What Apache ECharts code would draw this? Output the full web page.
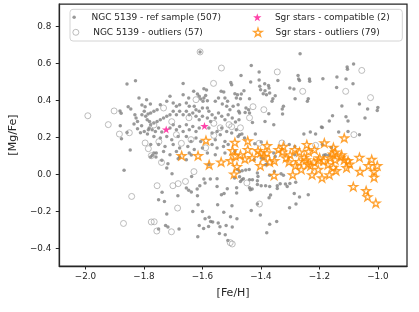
<!DOCTYPE html>
<html><head><meta charset="utf-8">
<script src="https://cdn.jsdelivr.net/npm/echarts@6/dist/echarts.min.js"></script>
<style>html,body{margin:0;padding:0;background:#fff}#c{width:419px;height:312px}</style>
</head><body><div id="c"></div>
<script>
// ---- tick labels ----
const xTicks = [-2.0, -1.8, -1.6, -1.4, -1.2, -1.0];
const yTicks = [-0.4, -0.2, 0.0, 0.2, 0.4, 0.6, 0.8];

// ---- series names ----
const nameRef = 'NGC 5139 - ref sample (507)';
const nameOut = 'NGC 5139 - outliers (57)';
const nameCompat = 'Sgr stars - compatible (2)';
const nameSgrOut = 'Sgr stars - outliers (79)';

// ---- NGC 5139 reference sample [Fe/H], [Mg/Fe] ----
const refSample = [
[-1.858,0.489],[-1.829,0.506],[-1.882,0.343],[-1.878,0.330],[-1.881,0.263],[-1.877,0.193],[-1.858,0.227],[-1.847,0.132],[-1.854,0.366],[-1.845,0.354],[-1.817,0.413],[-1.807,0.375],[-1.791,0.404],[-1.796,0.366],[-1.831,0.323],[-1.827,0.305],[-1.822,0.286],[-1.834,0.272],[-1.807,0.323],[-1.799,0.341],[-1.794,0.314],[-1.786,0.326],[-1.789,0.296],[-1.781,0.286],[-1.808,0.263],[-1.799,0.232],[-1.788,0.218],[-1.812,0.225],[-1.822,0.247],[-1.785,0.242],[-1.777,0.094],[-1.778,0.381],[-1.868,0.022],
[-1.750,-0.295],[-1.726,-0.276],[-1.718,-0.284],[-1.680,-0.295],[-1.722,-0.214],[-1.750,-0.137],[-1.730,-0.146],[-1.738,-0.097],[-1.684,-0.115],[-1.655,-0.074],[-1.647,-0.086],[-1.638,-0.095],[-1.618,-0.079],[-1.609,-0.061],[-1.617,-0.115],[-1.633,-0.200],[-1.600,-0.200],[-1.615,-0.164],[-1.591,-0.239],[-1.577,-0.232],[-1.572,-0.254],[-1.611,-0.276],[-1.596,-0.292],[-1.616,-0.337],[-1.579,-0.281],[-1.637,-0.011],[-1.704,0.004],[-1.722,0.035],[-1.718,0.058],[-1.683,0.085],[-1.678,0.094],[-1.655,0.079],[-1.638,0.105],[-1.595,-0.025],[-1.591,-0.046],[-1.573,-0.025],[-1.771,0.103],[-1.758,0.116],[-1.759,0.094],[-1.578,0.054],[-1.550,-0.023],[-1.550,-0.065],[-1.548,-0.164],[-1.546,-0.263],[-1.540,-0.283],[-1.565,-0.257],[-1.535,-0.110],[-1.526,-0.103],[-1.515,-0.077],[-1.527,-0.205],[-1.542,-0.319],[-1.519,-0.276],[-1.522,-0.326],[-1.513,-0.357],[-1.504,-0.229],[-1.498,-0.284],[-1.499,-0.169],[-1.483,-0.101],[-1.490,-0.019],[-1.473,-0.012],[-1.739,0.076],[-1.711,0.106],
[-1.608,0.662],[-1.666,0.492],[-1.503,0.497],[-1.500,0.485],[-1.595,0.463],[-1.586,0.456],[-1.630,0.449],[-1.536,0.449],[-1.527,0.445],[-1.489,0.436],[-1.480,0.431],[-1.617,0.435],[-1.611,0.422],[-1.606,0.408],[-1.595,0.413],[-1.589,0.427],[-1.598,0.395],[-1.583,0.398],[-1.647,0.413],[-1.666,0.431],[-1.678,0.377],[-1.689,0.368],[-1.700,0.386],[-1.711,0.422],[-1.722,0.395],[-1.744,0.377],[-1.755,0.350],[-1.766,0.341],[-1.777,0.332],[-1.655,0.386],[-1.645,0.368],[-1.628,0.368],[-1.622,0.350],[-1.611,0.341],[-1.600,0.359],[-1.583,0.359],[-1.578,0.341],[-1.556,0.395],[-1.545,0.413],[-1.523,0.413],[-1.514,0.395],[-1.532,0.381],[-1.517,0.368],[-1.506,0.350],[-1.495,0.368],[-1.478,0.377],[-1.473,0.332],[-1.567,0.323],[-1.556,0.305],[-1.545,0.332],[-1.534,0.314],[-1.523,0.296],[-1.512,0.323],[-1.498,0.305],[-1.487,0.283],[-1.475,0.296],[-1.572,0.286],[-1.583,0.305],[-1.600,0.314],[-1.611,0.296],[-1.622,0.314],[-1.633,0.332],[-1.645,0.323],[-1.655,0.341],[-1.666,0.323],[-1.678,0.341],[-1.689,0.323],[-1.700,0.341],[-1.711,0.323],[-1.722,0.314],[-1.733,0.305],[-1.744,0.296],[-1.755,0.286],[-1.766,0.278],[-1.777,0.269],[-1.782,0.251],[-1.772,0.242],[-1.761,0.232],[-1.750,0.251],[-1.739,0.229],[-1.711,0.251],[-1.700,0.269],[-1.689,0.242],[-1.678,0.259],[-1.666,0.232],[-1.655,0.269],[-1.645,0.242],[-1.633,0.259],[-1.622,0.232],[-1.611,0.251],[-1.578,0.251],[-1.567,0.224],[-1.550,0.232],[-1.539,0.215],[-1.534,0.251],[-1.517,0.232],[-1.500,0.224],[-1.484,0.242],[-1.473,0.215],[-1.766,0.205],[-1.744,0.197],[-1.722,0.205],[-1.705,0.188],[-1.683,0.205],[-1.655,0.205],[-1.639,0.178],[-1.622,0.197],[-1.606,0.178],[-1.556,0.188],[-1.523,0.178],[-1.512,0.161],[-1.777,0.161],[-1.750,0.161],[-1.728,0.151],[-1.700,0.161],[-1.678,0.143],[-1.650,0.151],[-1.628,0.134],[-1.600,0.143],[-1.567,0.161],[-1.550,0.143],[-1.528,0.151],[-1.766,0.116],[-1.733,0.124],[-1.689,0.124],[-1.645,0.116],[-1.583,0.116],[-1.556,0.106],[-1.523,0.116],
[-1.266,0.652],[-1.433,0.589],[-1.406,0.554],[-1.468,0.535],[-1.435,0.499],[-1.406,0.510],[-1.342,0.508],[-1.387,0.490],[-1.374,0.481],[-1.372,0.467],[-1.404,0.476],[-1.401,0.458],[-1.386,0.452],[-1.392,0.436],[-1.381,0.431],[-1.370,0.440],[-1.273,0.535],[-1.271,0.516],[-1.268,0.508],[-1.234,0.516],[-1.233,0.503],[-1.188,0.517],[-1.301,0.467],[-1.287,0.462],[-1.458,0.452],[-1.467,0.435],[-1.470,0.409],[-1.484,0.413],[-1.439,0.409],[-1.351,0.425],[-1.359,0.409],[-1.362,0.395],[-1.283,0.409],[-1.238,0.409],[-1.241,0.395],[-1.451,0.359],[-1.442,0.350],[-1.454,0.334],[-1.439,0.332],[-1.476,0.341],[-1.323,0.368],[-1.327,0.354],[-1.326,0.326],[-1.373,0.328],[-1.429,0.281],[-1.386,0.286],[-1.356,0.269],[-1.193,0.256],[-1.253,0.218],[-1.231,0.229],[-1.213,0.218],[-1.465,0.218],[-1.478,0.205],[-1.456,0.197],[-1.419,0.218],[-1.421,0.166],[-1.399,0.175],[-1.303,0.161],[-1.284,0.151],[-1.356,0.116],[-1.351,0.097],[-1.284,0.106],[-1.190,0.161],[-1.179,0.106],[-1.489,0.124],
[-1.083,0.597],[-1.105,0.581],[-1.104,0.568],[-1.140,0.526],[-1.109,0.516],[-1.085,0.490],[-1.141,0.470],[-1.063,0.381],[-1.123,0.370],[-1.035,0.354],[-1.000,0.362],[-1.002,0.346],[-1.155,0.317],[-1.109,0.312],[-1.102,0.289],[-1.044,0.305],[-1.166,0.289],[-1.190,0.254],[-1.134,0.229],[-1.102,0.232],[-1.063,0.215],[-1.159,0.146],
[-1.482,-0.239],[-1.433,-0.195],[-1.412,-0.160],[-1.402,-0.219],[-1.380,-0.315],[-1.370,-0.270],[-1.346,-0.254],[-1.302,-0.180],[-1.280,-0.160],[-1.286,-0.103],[-1.268,-0.122],[-1.238,-0.110],[-1.372,-0.126],[-1.367,-0.111],[-1.483,-0.072],[-1.470,-0.038],[-1.465,-0.029],[-1.460,-0.023],[-1.439,-0.072],[-1.436,-0.083],[-1.430,-0.079],[-1.439,-0.029],[-1.429,-0.029],[-1.412,0.008],[-1.410,-0.011],[-1.412,-0.034],[-1.412,-0.054],[-1.399,-0.061],[-1.384,-0.061],[-1.370,-0.066],[-1.344,-0.061],[-1.344,-0.076],[-1.334,-0.050],[-1.316,-0.052],[-1.310,-0.065],[-1.301,-0.049],[-1.281,-0.043],[-1.370,-0.005],[-1.331,0.004],[-1.323,-0.005],[-1.480,0.027],[-1.473,0.015],[-1.464,0.020],[-1.452,0.024],[-1.440,0.027],[-1.423,0.079],[-1.399,0.089],[-1.390,0.085],[-1.384,0.052],[-1.379,0.056],[-1.354,0.016],[-1.185,0.103],[-1.168,0.103]
];

// ---- NGC 5139 outliers ----
const outliers = [
[-1.992,0.317],[-1.902,0.343],[-1.922,0.269],[-1.884,0.218],[-1.850,0.225],[-1.796,0.170],[-1.785,0.139],[-1.842,-0.119],[-1.870,-0.265],[-1.775,-0.257],[-1.765,-0.256],[-1.775,0.101],
[-1.756,-0.306],[-1.706,-0.310],[-1.685,-0.182],[-1.755,-0.061],[-1.701,-0.061],[-1.683,-0.050],[-1.658,-0.038],[-1.629,0.015],[-1.740,0.065],[-1.505,-0.369],[-1.498,-0.376],
[-1.608,0.662],[-1.535,0.575],[-1.562,0.492],[-1.733,0.359],[-1.561,0.276],[-1.509,0.269],[-1.672,0.168],
[-1.344,0.554],[-1.257,0.449],[-1.427,0.366],[-1.406,0.168],[-1.328,0.170],[-1.213,0.157],
[-1.055,0.562],[-1.110,0.449],[-1.025,0.415],[-1.082,0.215],
[-1.405,-0.160],[-1.448,-0.046],
[-1.561,0.211],[-1.766,0.267],[-1.705,0.285],[-1.646,0.306],[-1.622,0.404],[-1.539,0.252],[-1.439,0.306],[-1.689,0.215],[-1.589,0.144],[-1.749,0.177],[-1.390,0.350],[-1.639,0.188],[-1.470,0.252],[-1.500,0.258]
];

// ---- Sgr stars ----
const sgrCompatible = [[-1.724,0.243],[-1.593,0.262]];
const sgrOutliers = [
[-1.671,0.101],[-1.615,0.101],[-1.588,0.184],[-1.577,0.052],[-1.536,0.067],[-1.503,0.074],[-1.488,0.101],[-1.482,0.042],[-1.492,0.002],[-1.489,0.173],
[-1.497,0.128],[-1.445,0.181],[-1.445,0.134],[-1.410,0.128],[-1.401,0.117],[-1.379,0.155],[-1.379,0.116],[-1.323,0.151],[-1.327,0.121],[-1.314,0.089],
[-1.284,0.134],[-1.268,0.121],[-1.243,0.161],[-1.237,0.124],[-1.252,0.092],[-1.199,0.089],[-1.455,0.083],[-1.402,0.047],[-1.370,0.067],[-1.354,0.074],
[-1.355,-0.005],[-1.291,-0.002],[-1.282,0.047],[-1.262,0.027],[-1.246,0.078],[-1.239,0.056],[-1.230,0.047],[-1.225,-0.002],[-1.219,0.067],[-1.204,0.027],
[-1.203,0.076],[-1.191,-0.019],[-1.185,0.074],[-1.146,0.079],[-1.152,0.038],[-1.143,0.020],[-1.166,-0.002],[-1.126,0.094],[-1.115,0.079],[-1.102,0.074],
[-1.096,0.056],[-1.063,0.092],[-1.061,0.016],[-1.021,0.081],[-1.032,0.047],[-1.002,0.047],[-1.013,0.016],[-1.013,-0.016],[-1.084,-0.066],[-1.040,-0.088],
[-1.035,-0.121],[-1.007,-0.155],[-1.183,0.170],[-1.115,0.197],[-1.152,0.146],[-1.146,0.121],[-1.154,0.110],[-1.124,0.106],[-1.163,0.089],[-1.470,0.106],
[-1.430,0.090],[-1.389,0.096],[-1.340,0.134],[-1.300,0.106],[-1.270,0.069],[-1.217,0.134],[-1.171,0.052],[-1.107,0.036],[-1.304,0.068]
];

const FONT = 'DejaVu Sans';
const INK = '#262626';
const STAR = 'path://M50,0 L61.2,34.5 L97.6,34.5 L68.2,55.9 L79.4,90.5 L50,69.1 L20.6,90.5 L31.8,55.9 L2.4,34.5 L38.8,34.5 Z';
const fmt = v => (Math.round(v * 10) / 10).toFixed(1).replace('-', '\u2212');

const styleRef = { color: '#808080' };
const styleOut = { color: 'rgba(0,0,0,0)', borderColor: '#a3a3a3', borderWidth: 0.9 };
const styleCompat = { color: '#ff1493' };
const styleSgrOut = { color: 'rgba(255,255,255,0)', borderColor: '#ff8c00', borderWidth: 1.35 };

function legendItem(name, left, top, w, h, itemStyle) {
  return {
    data: [{ name: name, itemStyle: itemStyle }],
    left: left, top: top, padding: 0,
    itemWidth: w, itemHeight: h, itemGap: 0,
    selectedMode: false, z: 6,
    textStyle: { fontFamily: FONT, fontSize: 9, color: INK, lineHeight: 10 }
  };
}

const chart = echarts.init(document.getElementById('c'), null, { renderer: 'canvas' });
chart.setOption({
  animation: false,
  backgroundColor: '#fff',
  grid: { left: 49, top: 4, right: 12, bottom: 46, show: true, borderColor: INK, borderWidth: 1.25, backgroundColor: 'rgba(0,0,0,0)' },
  xAxis: {
    type: 'value', min: -2.0897, max: -0.9003,
    name: '[Fe/H]', nameLocation: 'middle', nameGap: 22,
    nameTextStyle: { fontFamily: FONT, fontSize: 11, color: INK },
    splitLine: { show: false },
    axisLine: { show: true, onZero: false, lineStyle: { color: INK, width: 1.25 } },
    axisTick: { show: true, length: 3.5, customValues: xTicks, lineStyle: { color: INK, width: 1 } },
    axisLabel: { customValues: xTicks, formatter: fmt, fontFamily: FONT, fontSize: 8.8, color: INK, margin: 6 }
  },
  yAxis: {
    type: 'value', min: -0.495, max: 0.921,
    name: '[Mg/Fe]', nameLocation: 'middle', nameGap: 37, nameRotate: 90,
    nameTextStyle: { fontFamily: FONT, fontSize: 11, color: INK },
    splitLine: { show: false },
    axisLine: { show: true, onZero: false, lineStyle: { color: INK, width: 1.25 } },
    axisTick: { show: true, length: 3.5, customValues: yTicks, lineStyle: { color: INK, width: 1 } },
    axisLabel: { customValues: yTicks, formatter: fmt, fontFamily: FONT, fontSize: 8.8, color: INK, margin: 8 }
  },
  legend: [
    legendItem(nameRef, 72.4, 12.3, 24.6, 3.5, styleRef),
    legendItem(nameOut, 72.4, 27.3, 24.6, 6, styleOut),
    legendItem(nameCompat, 253.1, 12.3, 25.2, 8, styleCompat),
    legendItem(nameSgrOut, 253.1, 27.3, 25.2, 8, styleSgrOut)
  ],
  graphic: [{
    type: 'rect', z: 5, silent: true,
    shape: { x: 70, y: 9.3, width: 332.3, height: 31.7, r: 3 },
    style: { fill: 'rgba(255,255,255,0.8)', stroke: '#d4d4d4', lineWidth: 1 }
  }],
  series: [
    { name: nameRef, type: 'scatter', data: refSample, symbol: 'circle', symbolSize: 3.5, itemStyle: styleRef, z: 2 },
    { name: nameOut, type: 'scatter', data: outliers, symbol: 'circle', symbolSize: 6, itemStyle: styleOut, z: 2 },
    { name: nameCompat, type: 'scatter', data: sgrCompatible, symbol: STAR, symbolSize: 8.5, symbolKeepAspect: true, itemStyle: styleCompat, z: 3 },
    { name: nameSgrOut, type: 'scatter', data: sgrOutliers, symbol: STAR, symbolSize: 8.5, symbolKeepAspect: true, itemStyle: styleSgrOut, z: 3 }
  ]
});
</script>
</body></html>
